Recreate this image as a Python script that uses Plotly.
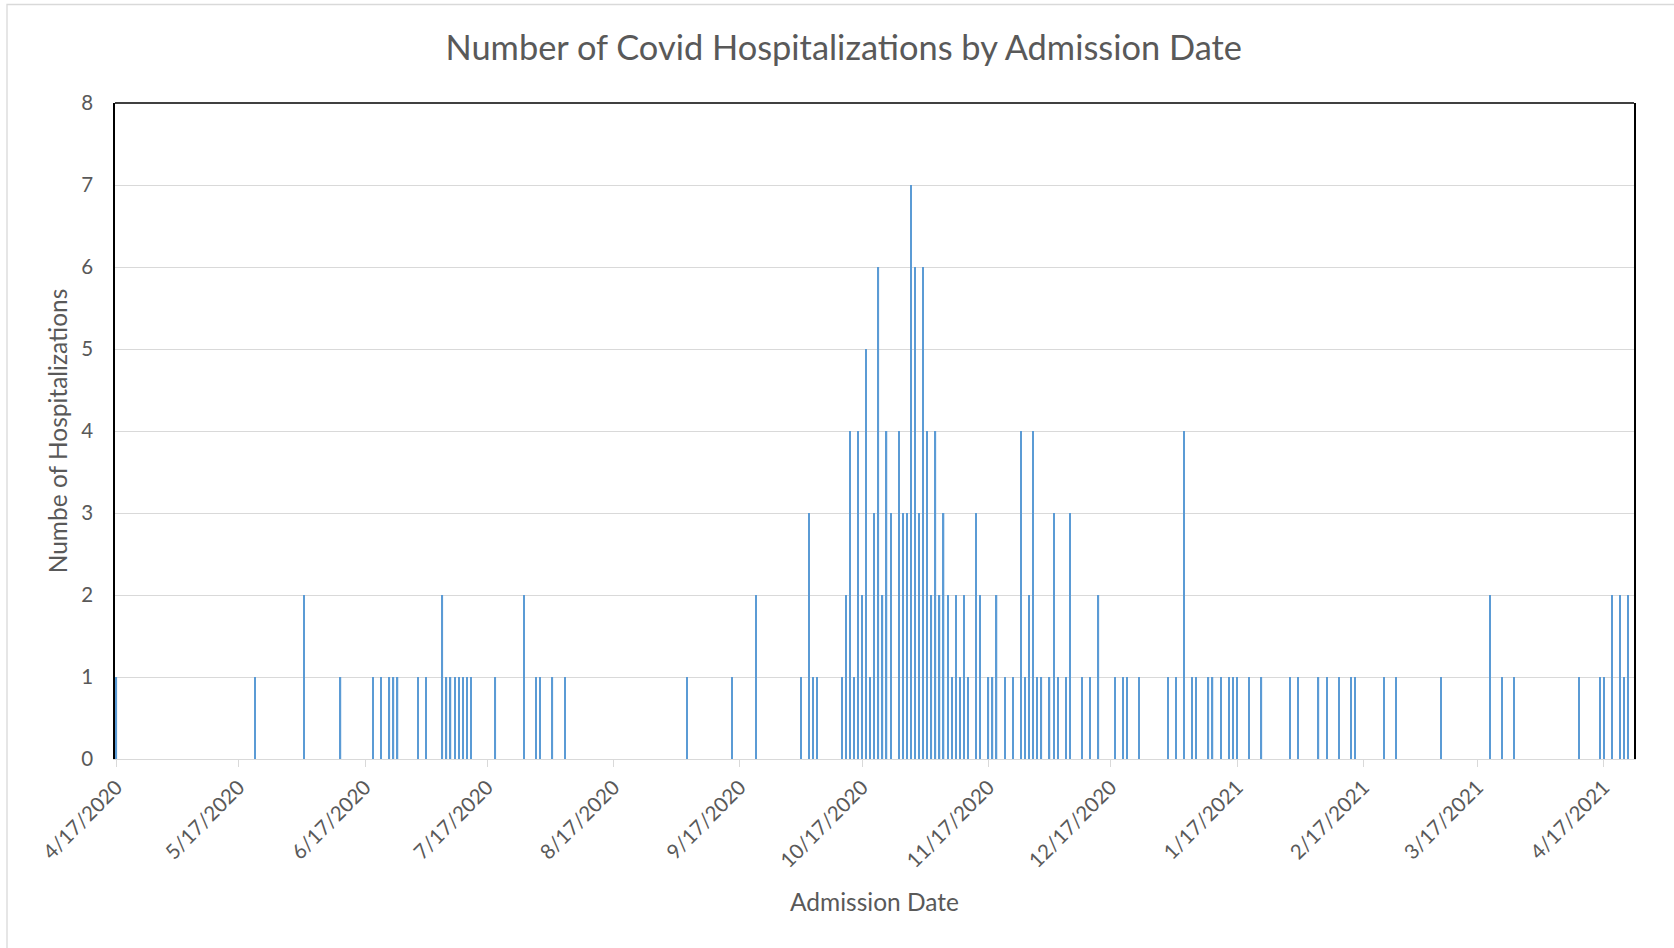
import plotly.graph_objects as go

# Admission dates and number of hospitalizations
admission_dates = [
    "2020-04-17", "2020-05-21", "2020-06-02", "2020-06-11", "2020-06-19", "2020-06-21",
    "2020-06-23", "2020-06-24", "2020-06-25", "2020-06-30", "2020-07-02", "2020-07-06",
    "2020-07-07", "2020-07-08", "2020-07-09", "2020-07-10", "2020-07-11", "2020-07-12",
    "2020-07-13", "2020-07-19", "2020-07-26", "2020-07-29", "2020-07-30", "2020-08-02",
    "2020-08-05", "2020-09-04", "2020-09-15", "2020-09-21", "2020-10-02", "2020-10-04",
    "2020-10-05", "2020-10-06", "2020-10-12", "2020-10-13", "2020-10-14", "2020-10-15",
    "2020-10-16", "2020-10-17", "2020-10-18", "2020-10-19", "2020-10-20", "2020-10-21",
    "2020-10-22", "2020-10-23", "2020-10-24", "2020-10-26", "2020-10-27", "2020-10-28",
    "2020-10-29", "2020-10-30", "2020-10-31", "2020-11-01", "2020-11-02", "2020-11-03",
    "2020-11-04", "2020-11-05", "2020-11-06", "2020-11-07", "2020-11-08", "2020-11-09",
    "2020-11-10", "2020-11-11", "2020-11-12", "2020-11-14", "2020-11-15", "2020-11-17",
    "2020-11-18", "2020-11-19", "2020-11-21", "2020-11-23", "2020-11-25", "2020-11-26",
    "2020-11-27", "2020-11-28", "2020-11-29", "2020-11-30", "2020-12-02", "2020-12-03",
    "2020-12-04", "2020-12-06", "2020-12-07", "2020-12-10", "2020-12-12", "2020-12-14",
    "2020-12-18", "2020-12-20", "2020-12-21", "2020-12-24", "2020-12-31", "2021-01-02",
    "2021-01-04", "2021-01-06", "2021-01-07", "2021-01-10", "2021-01-11", "2021-01-13",
    "2021-01-15", "2021-01-16", "2021-01-17", "2021-01-20", "2021-01-23", "2021-01-30",
    "2021-02-01", "2021-02-06", "2021-02-08", "2021-02-11", "2021-02-14", "2021-02-15",
    "2021-02-22", "2021-02-25", "2021-03-08", "2021-03-20", "2021-03-23", "2021-03-26",
    "2021-04-11", "2021-04-16", "2021-04-17", "2021-04-19", "2021-04-21", "2021-04-22",
    "2021-04-23",
]
hospitalizations = [
    1, 1, 2, 1, 1, 1,
    1, 1, 1, 1, 1, 2,
    1, 1, 1, 1, 1, 1,
    1, 1, 2, 1, 1, 1,
    1, 1, 1, 2, 1, 3,
    1, 1, 1, 2, 4, 1,
    4, 2, 5, 1, 3, 6,
    2, 4, 3, 4, 3, 3,
    7, 6, 3, 6, 4, 2,
    4, 2, 3, 2, 1, 2,
    1, 2, 1, 3, 2, 1,
    1, 2, 1, 1, 4, 1,
    2, 4, 1, 1, 1, 3,
    1, 1, 3, 1, 1, 2,
    1, 1, 1, 1, 1, 1,
    4, 1, 1, 1, 1, 1,
    1, 1, 1, 1, 1, 1,
    1, 1, 1, 1, 1, 1,
    1, 1, 1, 2, 1, 1,
    1, 1, 1, 2, 2, 1,
    2,
]

tick_dates = [
    "2020-04-17", "2020-05-17", "2020-06-17", "2020-07-17", "2020-08-17", "2020-09-17",
    "2020-10-17", "2020-11-17", "2020-12-17", "2021-01-17", "2021-02-17", "2021-03-17",
    "2021-04-17",
]
tick_labels = [
    "4/17/2020", "5/17/2020", "6/17/2020", "7/17/2020", "8/17/2020", "9/17/2020",
    "10/17/2020", "11/17/2020", "12/17/2020", "1/17/2021", "2/17/2021", "3/17/2021",
    "4/17/2021",
]
y_ticks = [0, 1, 2, 3, 4, 5, 6, 7, 8]

FONT = "Lato"
TEXT = "#595959"
GRID = "#D9D9D9"
DAY_MS = 86400000

fig = go.Figure()
fig.add_trace(go.Bar(
    x=admission_dates,
    y=hospitalizations,
    width=0.32 * DAY_MS,
    marker=dict(color="#5B9BD5", line=dict(width=0)),
    showlegend=False,
))

fig.update_layout(
    width=1674,
    height=948,
    paper_bgcolor="white",
    plot_bgcolor="white",
    margin=dict(l=115, r=40, t=103, b=189),
    font=dict(family=FONT, color=TEXT),
    title=dict(
        text="Number of Covid Hospitalizations by Admission Date",
        font=dict(family=FONT, size=34.4, color=TEXT),
        x=0.504, xref="container", xanchor="center",
        y=1 - 48 / 948, yref="container", yanchor="middle",
    ),
    xaxis=dict(
        type="date",
        range=["2020-04-16 15:30", "2021-04-24 10:00"],
        tickmode="array",
        tickvals=tick_dates,
        ticktext=tick_labels,
        tickangle=-45,
        tickfont=dict(family=FONT, size=20.5, color=TEXT),
        ticks="outside",
        ticklen=7,
        tickcolor=GRID,
        tickwidth=1.3,
        showline=True,
        linecolor=GRID,
        linewidth=1.3,
        showgrid=False,
        zeroline=False,
        title=dict(text="Admission Date", font=dict(family=FONT, size=24.5, color=TEXT), standoff=22),
    ),
    yaxis=dict(
        range=[0, 8],
        tickmode="array",
        tickvals=y_ticks,
        tickfont=dict(family=FONT, size=20.5, color=TEXT),
        showgrid=True,
        gridcolor=GRID,
        gridwidth=1.3,
        zeroline=False,
        showline=True,
        linecolor="black",
        linewidth=1.6,
        mirror=True,
        ticks="",
        ticklabelstandoff=16,
        title=dict(text="Numbe of Hospitalizations", font=dict(family=FONT, size=24.5, color=TEXT), standoff=7),
    ),
    shapes=[
        # top border of plot area (black)
        dict(type="line", xref="paper", yref="paper", x0=0, x1=1, y0=1, y1=1,
             line=dict(color="black", width=1.6), layer="above"),
        # outer chart-area border (light gray)
        dict(type="rect", xref="paper", yref="paper",
             x0=(7 - 115) / 1519, x1=(1700 - 115) / 1519,
             y0=(759 - 990) / 656, y1=(759 - 4.5) / 656,
             line=dict(color=GRID, width=1.3), fillcolor="rgba(0,0,0,0)", layer="below"),
    ],
)

fig.write_html(
    "out.html",
    config={"displayModeBar": False},
    post_script="document.body.style.margin='0px';",
)
